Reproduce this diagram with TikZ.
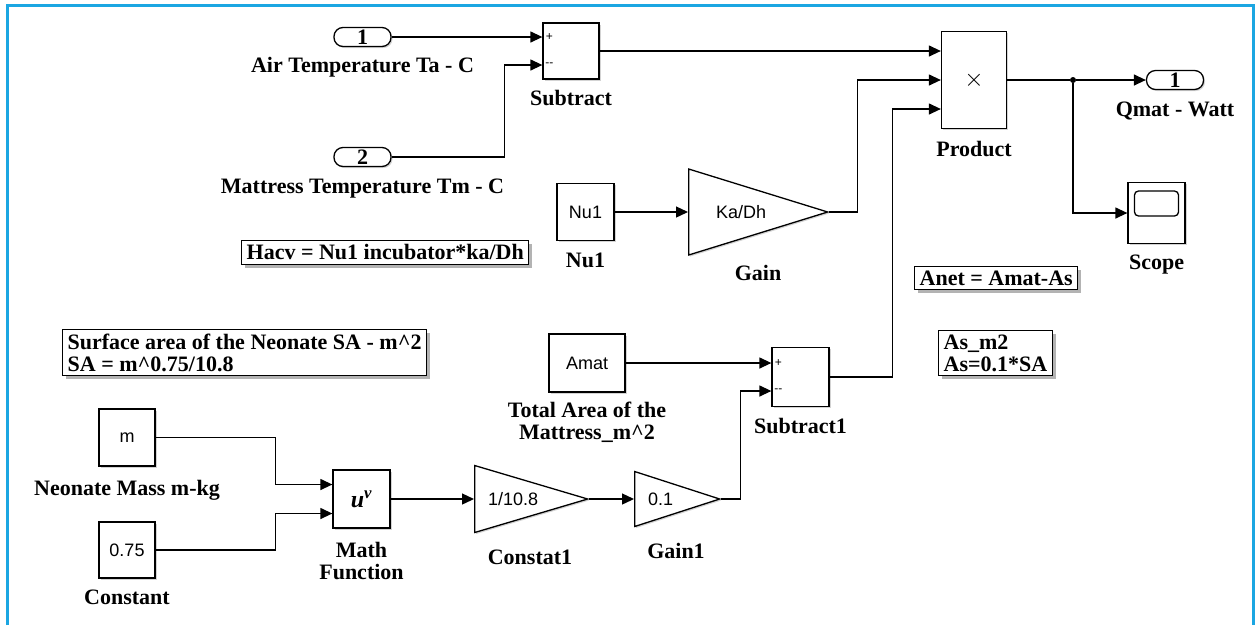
\documentclass[tikz,border=0pt]{standalone}
\usepackage{fontspec}
\setmainfont{Liberation Serif}
\newfontfamily\blockfont{Liberation Sans}
\usetikzlibrary{positioning,shapes.geometric,shadows,arrows.meta}
\definecolor{framecol}{RGB}{27,166,226}

\begin{document}
\begin{tikzpicture}[
    x=1pt, y=-1pt,
    node distance=10pt,
    block/.style={draw, line width=1.3pt, rectangle, fill=white, inner sep=0pt, font=\blockfont\fontsize{18}{20}\selectfont, drop shadow={shadow xshift=1.5pt, shadow yshift=-1.5pt, opacity=0.35}},
    gainblk/.style={draw, line width=1.3pt, isosceles triangle, isosceles triangle stretches, shape border rotate=0, fill=white, inner sep=0pt, drop shadow={shadow xshift=1.5pt, shadow yshift=-1.5pt, opacity=0.35}},
    gaintext/.style={font=\blockfont\fontsize{18}{20}\selectfont, inner sep=0pt, anchor=west},
    port/.style={draw, line width=1.3pt, rectangle, rounded corners=9pt, fill=white, minimum width=57pt, minimum height=19pt, inner sep=0pt, font=\bfseries\fontsize{22}{22}\selectfont, drop shadow={shadow xshift=1.5pt, shadow yshift=-1.5pt, opacity=0.35}},
    blabel/.style={font=\bfseries\fontsize{22}{22}\selectfont, inner sep=0pt, align=center},
    note/.style={draw, line width=1.3pt, fill=white, align=left, font=\bfseries\fontsize{22}{22}\selectfont, inner xsep=5pt, inner ysep=4pt, drop shadow={shadow xshift=3.5pt, shadow yshift=-3.5pt, opacity=0.6}},
    sign/.style={font=\blockfont\fontsize{12}{12}\selectfont, inner sep=0pt},
    wire/.style={line width=1.3pt, -{Triangle[length=12pt,width=11pt]}},
    line/.style={line width=1.3pt}
]
  \useasboundingbox (0,0) rectangle (1257,625);
  \draw [framecol, line width=3pt] (7,625) -- (7,5) -- (1253,5) -- (1253,625);

  % Ports
  \node (in1) [port] at (362.5,37) {1};
  \node (in2) [port] at (362.5,157) {2};
  \node (out1) [port] at (1175,80) {1};

  % Blocks
  \node (sub) [block, minimum width=56pt, minimum height=56pt] at (571,51) {};
  \node (subp) [sign] at ([xshift=7pt,yshift=14pt]sub.west) {+};
  \node (subm) [sign] at ([xshift=7pt,yshift=-14pt]sub.west) {--};
  \node (prod) [block, minimum width=65pt, minimum height=97pt, font=\blockfont\fontsize{26}{26}\selectfont] at (974,80) {$\times$};
  \node (scope) [block, minimum width=57pt, minimum height=61pt] at (1156.5,213) {};
  \node (screen) [draw, line width=1.3pt, rounded corners=4pt, minimum width=44pt, minimum height=25pt] at (1156.5,203.5) {};
  \node (nu1) [block, minimum width=57pt, minimum height=57pt] at (585.5,212) {Nu1};
  \node (gain) [gainblk, minimum height=139pt, minimum width=86pt, anchor=lower side] at (688,212) {};
  \node (gaintxt) [gaintext] at ([xshift=28pt]gain.lower side) {Ka/Dh};
  \node (amat) [block, minimum width=76pt, minimum height=58pt] at (587,363) {Amat};
  \node (sub1) [block, minimum width=57pt, minimum height=59pt] at (800.5,377) {};
  \node (sub1p) [sign] at ([xshift=7pt,yshift=14pt]sub1.west) {+};
  \node (sub1m) [sign] at ([xshift=7pt,yshift=-14pt]sub1.west) {--};
  \node (mass) [block, minimum width=56pt, minimum height=57pt] at (127,437.5) {m};
  \node (const) [block, minimum width=56pt, minimum height=56pt] at (127,550) {0.75};
  \node (mfun) [block, minimum width=57pt, minimum height=58pt, font=\bfseries\itshape\fontsize{24}{24}\selectfont] at (361.5,499) {u\textsuperscript{v}};
  \node (c1) [gainblk, minimum height=113pt, minimum width=67pt, anchor=lower side] at (474,499) {};
  \node (c1txt) [gaintext] at ([xshift=14pt]c1.lower side) {1/10.8};
  \node (g1) [gainblk, minimum height=85pt, minimum width=55pt, anchor=lower side] at (634,499) {};
  \node (g1txt) [gaintext] at ([xshift=14pt]g1.lower side) {0.1};

  % Labels
  \node (in1lab) [blabel, below=10pt of in1] {Air Temperature Ta - C};
  \node (in2lab) [blabel, below=12pt of in2] {Mattress Temperature Tm - C};
  \node (sublab) [blabel, below=10pt of sub] {Subtract};
  \node (prodlab) [blabel, below=12pt of prod] {Product};
  \node (out1lab) [blabel, below=12pt of out1] {Qmat - Watt};
  \node (scopelab) [blabel, below=11pt of scope] {Scope};
  \node (nu1lab) [blabel, below=12pt of nu1] {Nu1};
  \node (gainlab) [blabel] at (758,273) {Gain};
  \node (amatlab) [blabel, below=9pt of amat] {Total Area of the\\Mattress\_m\^{}2};
  \node (sub1lab) [blabel, below=11pt of sub1] {Subtract1};
  \node (masslab) [blabel, below=13pt of mass] {Neonate Mass m-kg};
  \node (constlab) [blabel, below=11pt of const] {Constant};
  \node (mfunlab) [blabel, below=13pt of mfun] {Math\\Function};
  \node (c1lab) [blabel] at (530,557) {Constat1};
  \node (g1lab) [blabel] at (676,551) {Gain1};

  % Notes
  \node (hacv) [note, anchor=north west] at (241,240) {Hacv = Nu1 incubator*ka/Dh};
  \node (sa) [note, anchor=north west] at (62,329) {Surface area of the Neonate SA - m\^{}2\\SA = m\^{}0.75/10.8};
  \node (anet) [note, anchor=north west] at (914,266) {Anet = Amat-As};
  \node (asm) [note, anchor=north west] at (938,330) {As\_m2\\As=0.1*SA};

  % Wires
  \node (jn) [circle, fill, inner sep=0pt, minimum size=6pt] at (1073,80) {};
  \draw [wire] (in1.east) -- ([yshift=14pt]sub.west);
  \draw [wire] (in2.east) -- ++(113,0) |- ([yshift=-14pt]sub.west);
  \draw [wire] (sub.east) -- ([yshift=29pt]prod.west);
  \draw [wire] (nu1.east) -- (gain.lower side);
  \draw [wire] (gain.apex) -- ++(28,0) |- (prod.west);
  \draw [wire] (sub1.east) -- ++(63,0) |- ([yshift=-29pt]prod.west);
  \draw [line] (prod.east) -- (jn);
  \draw [wire] (jn) -- (out1.west);
  \draw [wire] (jn) |- (scope.west);
  \draw [wire] (amat.east) -- ([yshift=14pt]sub1.west);
  \draw [wire] (mass.east) -- ++(120,0) |- ([yshift=14.5pt]mfun.west);
  \draw [wire] (const.east) -- ++(120,0) |- ([yshift=-14.5pt]mfun.west);
  \draw [wire] (mfun.east) -- (c1.lower side);
  \draw [wire] (c1.apex) -- (g1.lower side);
  \draw [wire] (g1.apex) -- ++(19,0) |- ([yshift=-14pt]sub1.west);
\end{tikzpicture}
\end{document}
